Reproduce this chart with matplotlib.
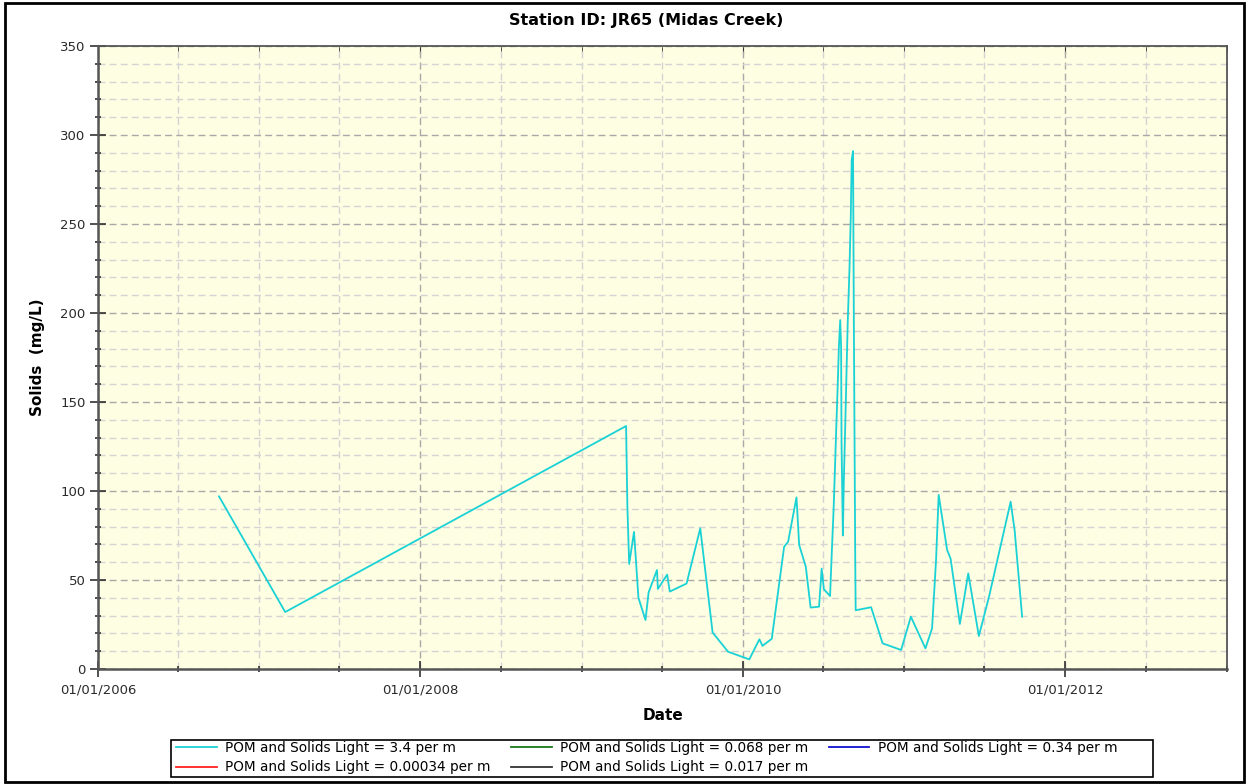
import pandas as pd
import matplotlib
matplotlib.use("Agg")
import matplotlib.pyplot as plt
import matplotlib.dates as mdates
from matplotlib.patches import Rectangle
from matplotlib.ticker import MultipleLocator

# sample dates and solids (mg/L)
dates = [
    "2006-10-02", "2007-03-01", "2009-04-11", "2009-04-14", "2009-04-18",
    "2009-04-29", "2009-05-09", "2009-05-25", "2009-06-01", "2009-06-20",
    "2009-06-22", "2009-07-13", "2009-07-19", "2009-08-26", "2009-09-26",
    "2009-10-24", "2009-11-28", "2010-01-15", "2010-02-07", "2010-02-14",
    "2010-03-07", "2010-04-04", "2010-04-13", "2010-05-02", "2010-05-08",
    "2010-05-23", "2010-06-03", "2010-06-22", "2010-06-28", "2010-07-03",
    "2010-07-17", "2010-07-21", "2010-07-25", "2010-07-28", "2010-07-31",
    "2010-08-03", "2010-08-06", "2010-08-09", "2010-08-11", "2010-08-12",
    "2010-08-15", "2010-08-17", "2010-08-20", "2010-08-23", "2010-08-26",
    "2010-08-30", "2010-09-02", "2010-09-04", "2010-09-07", "2010-09-09",
    "2010-09-12", "2010-09-13", "2010-10-18", "2010-11-13", "2010-12-25",
    "2011-01-16", "2011-02-18", "2011-03-05", "2011-03-14", "2011-03-20",
    "2011-04-08", "2011-04-16", "2011-05-07", "2011-05-26", "2011-06-19",
    "2011-07-12", "2011-08-30", "2011-09-08", "2011-09-25",
]
solids = [
    97, 32, 136.5, 91, 59,
    77, 40, 27.5, 43, 55.6,
    45, 53, 43.5, 48, 79,
    20.5, 9.7, 5.4, 16.7, 13,
    17, 68.7, 71.5, 96.4, 69.7,
    57.5, 34.5, 35, 56.4, 44.8,
    41, 66, 89.5, 112, 135,
    157, 181, 196, 181, 127,
    75, 104, 133, 164, 194.5,
    225, 255, 286, 291, 190,
    62, 33, 34.7, 14.4, 10.7,
    29.4, 11.6, 22.8, 61, 97.8,
    67, 62, 25.3, 53.7, 18.5,
    40.6, 94, 78, 29.4,
]

# series names (only the 3.4 per m run has data)
labels = [
    "POM and Solids Light = 3.4 per m",
    "POM and Solids Light = 0.00034 per m",
    "POM and Solids Light = 0.068 per m",
    "POM and Solids Light = 0.017 per m",
    "POM and Solids Light = 0.34 per m",
]
colors = ["#1ad2d6", "#ff2020", "#1a7a1a", "#333333", "#1010d0"]

x = pd.to_datetime(dates)

fig = plt.figure(figsize=(12.49, 7.84), dpi=100)
ax = fig.add_axes([98 / 1249, 115 / 784, 1129 / 1249, 623 / 784])
ax.set_facecolor("#fefee2")

# outer border of the picture
fig.patches.append(Rectangle((5 / 1249, 2 / 784), 1239 / 1249, 779 / 784,
                             transform=fig.transFigure, fill=False,
                             edgecolor="black", linewidth=2))
# legend box
fig.patches.append(Rectangle((171 / 1249, 7 / 784), 982 / 1249, 37 / 784,
                             transform=fig.transFigure, fill=False,
                             edgecolor="black", linewidth=1.2))

for i, lab in enumerate(labels):
    if i == 0:
        ax.plot(x, solids, color=colors[i], linewidth=1.3, label=lab)
    else:
        ax.plot([], [], color=colors[i], linewidth=1.3, label=lab)

ax.set_xlim(pd.Timestamp("2006-01-01"), pd.Timestamp("2013-01-01"))
ax.set_ylim(0, 350)

ax.xaxis.set_major_locator(mdates.YearLocator(2))
ax.xaxis.set_minor_locator(mdates.MonthLocator(bymonth=[1, 7]))
ax.xaxis.set_major_formatter(mdates.DateFormatter("%d/%m/%Y"))
ax.yaxis.set_major_locator(MultipleLocator(50))
ax.yaxis.set_minor_locator(MultipleLocator(10))

ax.grid(which="major", color="#a8a8a8", linestyle=(0, (5, 3)), linewidth=1)
ax.grid(which="minor", color="#d4d4d4", linestyle=(0, (5, 3)), linewidth=1)
ax.set_axisbelow(True)

ax.tick_params(which="major", direction="inout", length=11, width=1.2,
               labelsize=9.5, labelcolor="#2a2a2a", color="#333333")
ax.tick_params(which="minor", direction="inout", length=5, width=1.2,
               color="#333333")
ax.tick_params(axis="x", pad=5)

for side in ["left", "bottom"]:
    ax.spines[side].set_color("#555555")
    ax.spines[side].set_linewidth(1.8)
for side in ["top", "right"]:
    ax.spines[side].set_color("#555555")
    ax.spines[side].set_linewidth(1.3)

# inward ticks on top and right
top = ax.secondary_xaxis("top")
top.xaxis.set_major_locator(mdates.YearLocator(2))
top.xaxis.set_minor_locator(mdates.MonthLocator(bymonth=[1, 7]))
top.tick_params(which="major", direction="in", length=6, labeltop=False, color="#333333")
top.tick_params(which="minor", direction="in", length=4, color="#333333")
top.spines["top"].set_visible(False)
right = ax.secondary_yaxis("right")
right.yaxis.set_major_locator(MultipleLocator(50))
right.yaxis.set_minor_locator(MultipleLocator(10))
right.tick_params(which="major", direction="in", length=6, labelright=False, color="#333333")
right.tick_params(which="minor", direction="in", length=4, color="#333333")
right.spines["right"].set_visible(False)

fig.text(646 / 1249, 1 - 21 / 784, "Station ID: JR65 (Midas Creek)",
         ha="center", va="center", fontsize=11.5, fontweight="bold")
ax.set_xlabel("Date", fontsize=11, fontweight="bold", labelpad=8)
ax.set_ylabel("Solids  (mg/L)", fontsize=11, fontweight="bold", labelpad=11)

leg = ax.legend(loc="upper left", ncol=3,
                bbox_to_anchor=(176 / 1249, 1 - 741 / 784),
                bbox_transform=fig.transFigure, frameon=False,
                handlelength=3.0, handletextpad=0.6, borderaxespad=0,
                borderpad=0, labelspacing=0.4, columnspacing=1.5,
                prop={"family": "DejaVu Sans", "size": 9.8})

fig.savefig("out.png", dpi=100)
